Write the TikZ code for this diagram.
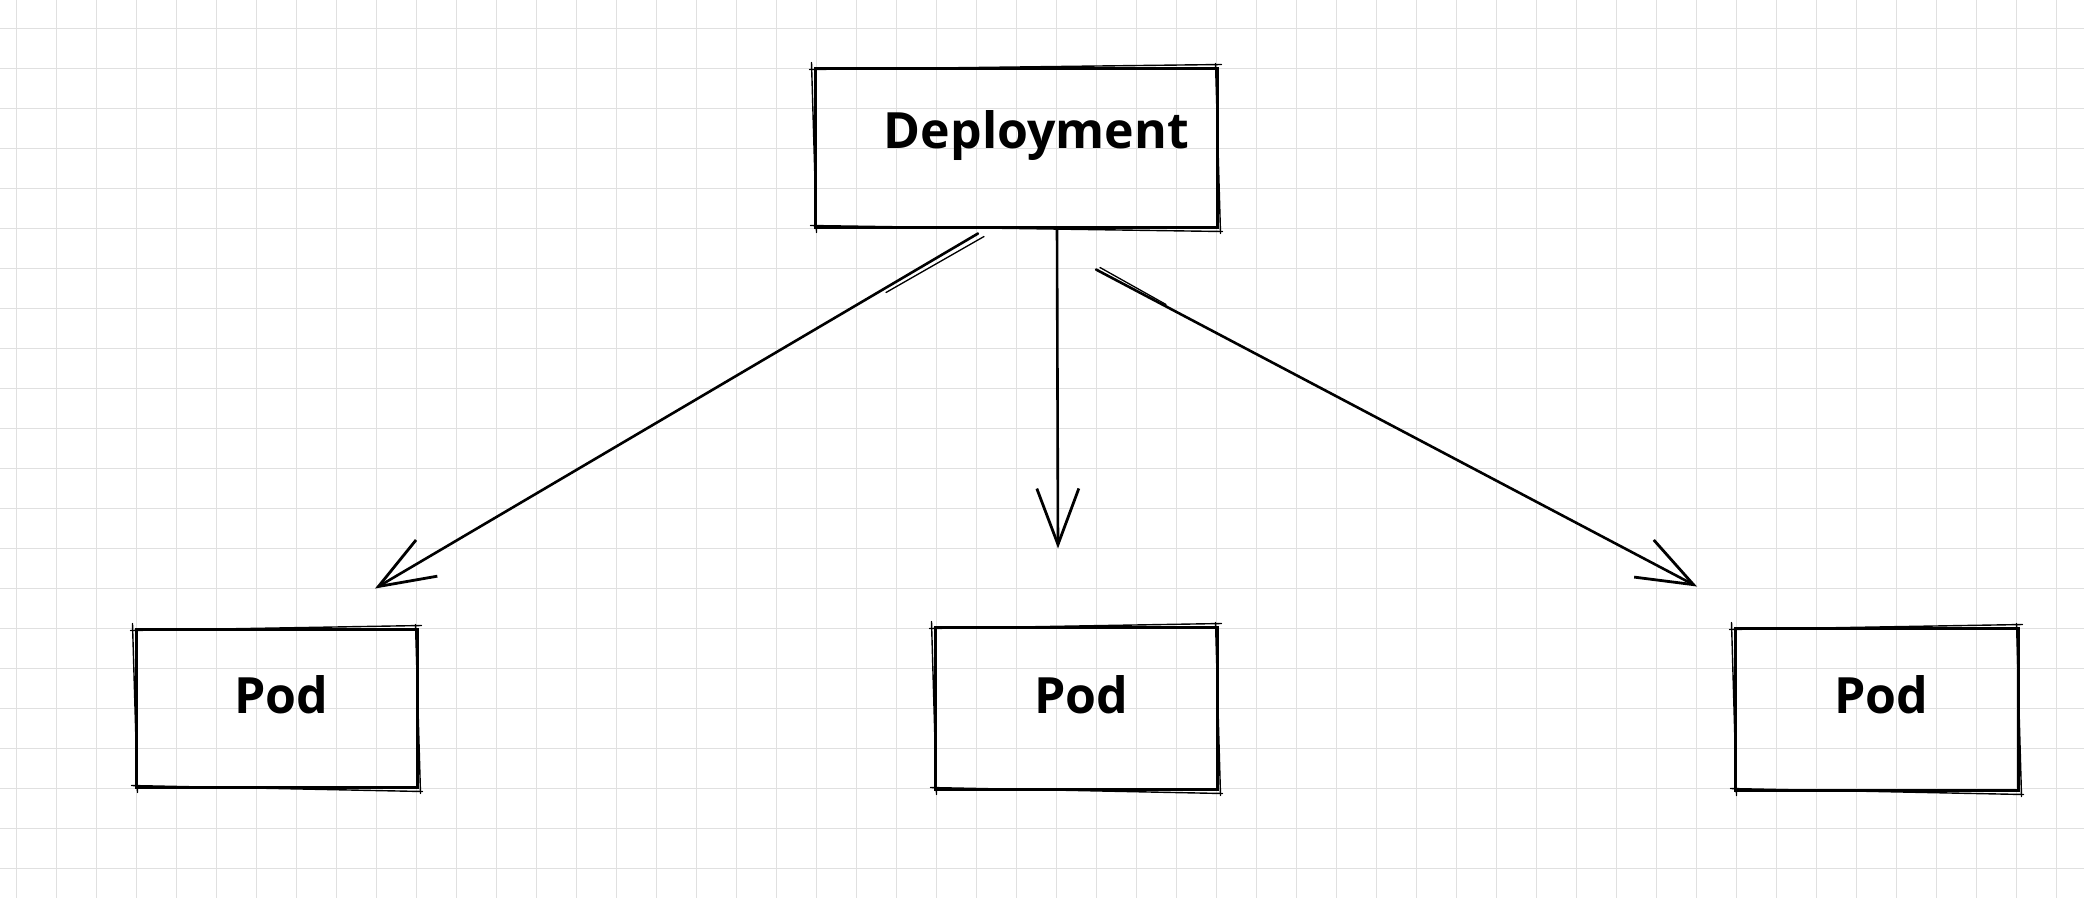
\documentclass[tikz,border=0pt]{standalone}
\usepackage{fontspec}
\setmainfont{Open Sans}
\usetikzlibrary{arrows.meta}
\tikzset{
  gridline/.style={draw=black!12, line width=1.5pt},
  skbox/.style={draw=black, line width=3pt, inner sep=0pt, fill=none},
  skextra/.style={draw=black, line width=1.4pt, line cap=round},
  lbl/.style={inner sep=0pt, anchor=base, font=\fontsize{50}{56}\selectfont\bfseries},
  arr/.style={draw=black, line width=2.6pt, line cap=round,
    -{Straight Barb[length=56pt, width=42pt, line width=2.8pt]}},
  arrextra/.style={draw=black, line width=1.3pt, line cap=round},
}
\newcommand\sketchlines[1]{%
  \draw[skextra] ([shift={(-4,3)}]#1.north west) -- ([shift={(3,-2)}]#1.north east);
  \draw[skextra] ([shift={(-3,-3)}]#1.south west) -- ([shift={(4,3)}]#1.south east);
  \draw[skextra] ([shift={(-2,-4)}]#1.north west) -- ([shift={(3,4)}]#1.south west);
  \draw[skextra] ([shift={(-3,-3)}]#1.north east) -- ([shift={(2,5)}]#1.south east);
}
\begin{document}
\begin{tikzpicture}[x=1pt, y=-1pt]
\useasboundingbox (0,0) rectangle (2084,898);
\fill[white] (0,0) rectangle (2084,898);
% grid
\foreach \i in {0,...,51} \draw[gridline] (16.7+40*\i,0) -- (16.7+40*\i,898);
\foreach \j in {0,...,21} \draw[gridline] (0,28.7+40*\j) -- (2084,28.7+40*\j);
% boxes
\node[skbox, minimum width=402pt, minimum height=159pt] (dep) at (1016,147.5) {};
\node[skbox, minimum width=281pt, minimum height=158pt] (pod1) at (276.5,708) {};
\node[skbox, minimum width=282pt, minimum height=162pt] (pod2) at (1076,708) {};
\node[skbox, minimum width=283pt, minimum height=162pt] (pod3) at (1876.5,709) {};
\sketchlines{dep}
\sketchlines{pod1}
\sketchlines{pod2}
\sketchlines{pod3}
% labels
\node[lbl] (deptext) at (1036.5,148) {Deployment};
\node[lbl] (pod1text) at (281.5,713) {Pod};
\node[lbl] (pod2text) at (1081.5,713) {Pod};
\node[lbl] (pod3text) at (1881.5,713) {Pod};
% arrows
\draw[arr] ([shift={(-38,5)}]dep.south) -- ([shift={(98.5,-39)}]pod1.north);
\draw[arr] ([shift={(41,1)}]dep.south) -- ([shift={(-18,-77)}]pod2.north);
\draw[arr] ([shift={(80,41)}]dep.south) -- ([shift={(-179.5,-40)}]pod3.north);
% sketchy second strokes near arrow starts
\draw[arrextra] ([shift={(-32,8)}]dep.south) -- ([shift={(-130,64)}]dep.south);
\draw[arrextra] ([shift={(84,39)}]dep.south) -- ([shift={(150,76)}]dep.south);
\end{tikzpicture}
\end{document}
